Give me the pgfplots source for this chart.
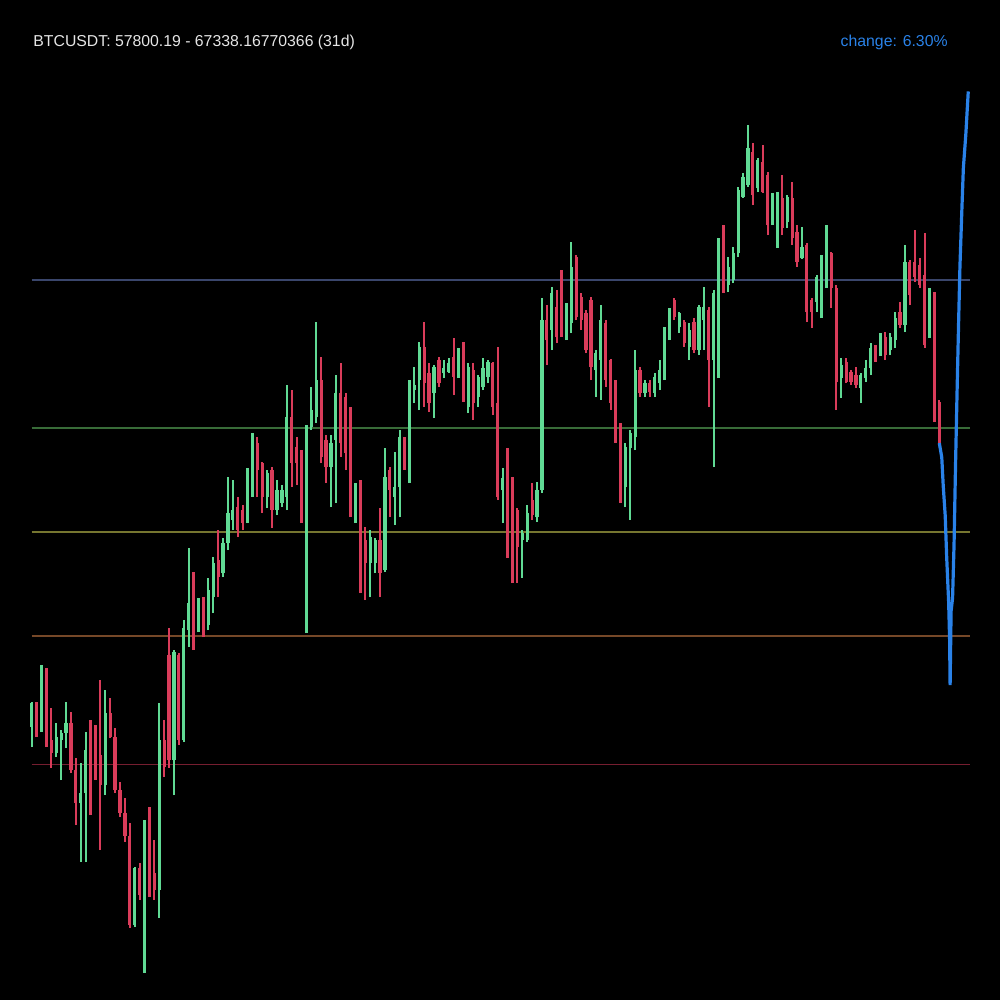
\documentclass[border=0pt]{standalone}
\usepackage{pgfplots}
\pgfplotsset{compat=1.18}
\usepackage{pgfplotstable}
\usepackage{fontspec}
\setmainfont{Liberation Sans}
\definecolor{upc}{RGB}{96,218,148}
\definecolor{dnc}{RGB}{218,60,90}
\definecolor{chg}{RGB}{42,130,232}
\definecolor{lvA}{RGB}{58,70,108}
\definecolor{lvB}{RGB}{56,108,56}
\definecolor{lvC}{RGB}{118,118,48}
\definecolor{lvD}{RGB}{118,72,40}
\definecolor{lvE}{RGB}{118,30,48}
\pgfplotstableread{
i o h l c
0 60458 60728 60241 60717
1 60717 60728 60349 60533
2 60512 61129 60403 61075
3 61075 61096 60241 60317
4 60317 60663 60014 60176
5 60176 60501 60133 60349
6 60317 60425 59884 60393
7 60393 60728 60230 60501
8 60501 60620 59960 59992
9 59992 60122 59397 59635
10 59635 60068 58996 59743
11 59743 60403 58996 60209
12 60209 60533 59505 59884
13 60133 60479 59884 59970
14 60154 60966 59126 59830
15 59830 60858 59721 60609
16 60609 60772 60338 60349
17 60349 60447 59743 59776
18 59776 59862 59483 59527
19 59527 59689 59213 59278
20 59278 59418 58282 58314
21 58314 58942 58292 58931
22 58931 58985 58585 58639
23 58639 59451 57800.19 59321
24 59321 59591 58617 58877
25 58877 59234 58585 58693
26 58693 60717 58390 60317
27 60317 60533 59916 60025
28 61237 61529 60014 60100
29 60100 61291 59721 61269
30 61237 61259 60263 60317
31 60317 61616 60295 61529
32 61508 62395 61324 61800
33 61800 62136 61291 61508
34 61508 61854 61486 61832
35 61832 61865 61432 61508
36 61562 62071 61508 61941
37 61865 62298 61692 62233
38 62265 62590 61865 62081
39 62125 62504 62081 62450
40 62450 63164 62374 62774
41 62699 63132 62590 62807
42 62839 62948 62514 62590
43 62807 62861 62590 62666
44 62731 63261 62666 63132
45 63099 63640 62948 63456
46 63532 63597 62948 63240
47 63316 63326 62774 62948
48 62948 63240 62828 63207
49 63240 63272 62612 62807
50 62807 63132 62753 63023
51 62883 63077 62839 63023
52 62948 64160 62807 63814
53 63814 64106 63056 63316
54 63489 63597 63077 63316
55 63424 63456 62666 62699
56 62666 63727 61475 63705
57 63705 64138 63673 63889
58 63814 64842 63749 64214
59 64214 64463 63316 63381
60 63565 63619 63099 63272
61 63272 63619 62839 63532
62 63565 64268 62883 64073
63 64073 64398 63381 63532
64 64030 64073 63240 63424
65 63889 63922 62731 62948
66 62948 63099 62666 63056
67 63099 63132 61908 62482
68 62482 62623 61832 62233
69 62233 62590 61865 62514
70 62233 62504 62125 62482
71 62482 62828 61865 62125
72 62157 63478 62136 63164
73 63240 63272 62731 63023
74 62948 63435 62644 63056
75 63056 63673 62731 63597
76 63532 63597 63240 63316
77 63424 64214 63099 64106
78 64106 64355 63965 64160
79 64214 64626 63889 64571
80 64571 64842 63922 64182
81 64290 64398 63868 63965
82 64073 64377 63803 64355
83 64431 64463 64138 64182
84 64290 64431 64236 64344
85 64301 64452 64290 64398
86 64463 64669 64052 64247
87 64247 64561 64236 64463
88 64463 64626 63976 63998
89 63922 64398 63857 64355
90 64322 64398 63781 63965
91 64030 64268 63922 64247
92 64138 64452 64106 64344
93 64247 64431 64182 64409
94 64398 64409 63835 63922
95 63965 64571 62915 62948
96 63023 63261 62666 63153
97 63164 63478 62287 62699
98 63056 63164 62016 62298
99 62807 62828 62016 62406
100 62482 62590 62071 62558
101 62482 62861 62460 62774
102 62915 63099 62699 62753
103 62731 63110 62677 63023
104 63023 65102 62991 64864
105 64864 65026 64377 64647
106 64755 65221 64539 65156
107 65004 65189 64615 64680
108 65221 65405 64680 64723
109 64680 65048 64647 64864
110 64831 65708 64723 65438
111 65546 65567 64864 64896
112 65113 65156 64755 64864
113 64940 64972 64506 64539
114 65080 65113 64214 64355
115 64322 64539 64030 64506
116 64431 65026 63998 64864
117 64831 64864 64138 64214
118 64431 64441 63889 63965
119 64182 64214 63532 63597
120 63705 63749 62883 62915
121 63056 63532 62839 63489
122 63478 63673 62699 63640
123 63597 64539 63456 64322
124 64322 64355 64030 64073
125 64073 64214 64030 64182
126 64182 64214 64030 64084
127 64073 64290 64030 64247
128 64182 64431 64106 64322
129 64247 64788 64214 64723
130 64680 64994 64647 64972
131 65080 65102 64864 64896
132 64788 64950 64723 64940
133 64842 64864 64571 64615
134 64571 64831 64431 64755
135 64842 64885 64506 64539
136 64539 65026 64485 65004
137 64864 65221 64539 65004
138 64972 65004 63922 64431
139 64431 65189 63272 65156
140 65113 65751 64236 65730
141 65697 65892 65156 65264
142 65243 65546 65167 65438
143 65297 65654 65264 65589
144 65589 66304 65546 66271
145 66195 66455 66185 66412
146 66325 66975 66304 66726
147 66682 66780 66109 66217
148 66293 66618 66249 66596
149 66574 66758 66239 66249
150 66433 66466 65784 65892
151 65925 66239 65892 66217
152 66055 66249 65643 66141
153 66185 66433 65784 65860
154 65925 66217 65860 66195
155 66185 66358 65676 65751
156 65816 65892 65438 65492
157 65535 65871 65525 65654
158 65676 65697 64842 64950
159 65080 65102 64777 64950
160 65059 65351 64950 65329
161 65167 65567 64885 65535
162 65427 65892 65210 65600
163 65589 65600 64994 65210
164 65210 65243 63889 64193
165 64236 64452 64019 64377
166 64409 64452 64182 64193
167 64301 64322 64160 64193
168 64268 64355 64128 64160
169 64128 64290 63965 64268
170 64236 64431 64193 64344
171 64344 64615 64268 64561
172 64561 64593 64409 64452
173 64485 64723 64475 64701
174 64680 64734 64431 64485
175 64539 64723 64485 64680
176 64647 64950 64561 64885
177 64950 65059 64777 64810
178 64810 65676 64734 65492
179 65492 65513 65026 65134
180 65492 65838 65275 65329
181 65459 65535 65210 65243
182 65351 65805 64561 64593
183 64701 65210 64669 65189
184 65134 65167 63759 63911
185 63976 63998 63510 63532
}\candles

\begin{document}
\begin{tikzpicture}
\fill[black] (0pt,0pt) rectangle (500pt,500pt);
\useasboundingbox (0pt,0pt) rectangle (500pt,500pt);
\begin{axis}[at={(0pt,0pt)}, anchor=south west, scale only axis,
  width=500pt, height=500pt, hide axis,
  xmin=-6.46, xmax=197.37, ymin=57502.5, ymax=68328.5,
  unbounded coords=discard]
% Fibonacci levels
\addplot[lvA, line width=0.6pt] coordinates {(0,65297.07) (191.3,65297.07)};
\addplot[lvB, line width=0.6pt] coordinates {(0,63694.70) (191.3,63694.70)};
\addplot[lvC, line width=0.6pt] coordinates {(0,62569.18) (191.3,62569.18)};
\addplot[lvD, line width=0.6pt] coordinates {(0,61443.66) (191.3,61443.66)};
\addplot[lvE, line width=0.6pt] coordinates {(0,60051.15) (191.3,60051.15)};
% wicks up
\addplot[draw=none, forget plot, error bars/.cd, y dir=plus, y explicit, error mark=none,
  error bar style={draw=upc, line width=1.1pt}]
  table[x=i, y expr={\thisrow{c}>=\thisrow{o} ? \thisrow{l} : nan}, y error expr={\thisrow{h}-\thisrow{l}}] {\candles};
% bodies up
\addplot[draw=none, forget plot, error bars/.cd, y dir=plus, y explicit, error mark=none,
  error bar style={draw=upc, line width=1.6pt}]
  table[x=i, y expr={\thisrow{c}>=\thisrow{o} ? \thisrow{o} : nan}, y error expr={\thisrow{c}-\thisrow{o}}] {\candles};
% wicks down
\addplot[draw=none, forget plot, error bars/.cd, y dir=plus, y explicit, error mark=none,
  error bar style={draw=dnc, line width=1.1pt}]
  table[x=i, y expr={\thisrow{c}<\thisrow{o} ? \thisrow{l} : nan}, y error expr={\thisrow{h}-\thisrow{l}}] {\candles};
% bodies down
\addplot[draw=none, forget plot, error bars/.cd, y dir=plus, y explicit, error mark=none,
  error bar style={draw=dnc, line width=1.6pt}]
  table[x=i, y expr={\thisrow{c}<\thisrow{o} ? \thisrow{c} : nan}, y error expr={\thisrow{o}-\thisrow{c}}] {\candles};
% change line
\addplot[chg, line width=1.6pt] coordinates {
(185.0,63532) (185.5,63375) (185.8,63067) (186.2,62747) (186.5,62298)
(186.9,61811) (187.1,61399) (187.2,60912) (187.4,61713) (187.7,61854)
(188.0,62428) (188.3,63283) (188.6,64041) (188.9,64766) (189.2,65438)
(189.6,66065) (189.9,66509) (190.4,66872) (190.9,67338.17)};
\end{axis}
\node[anchor=base west, text=white!90!black, font=\fontsize{7.9}{9}\selectfont, inner sep=0pt] at (16.5pt,476.5pt) {BTCUSDT: 57800.19 - 67338.16770366 (31d)};
\node[anchor=base east, text=chg, font=\fontsize{7.9}{9}\selectfont, inner sep=0pt] at (474pt,476.5pt) {change: 6.30\%};
\end{tikzpicture}
\end{document}
